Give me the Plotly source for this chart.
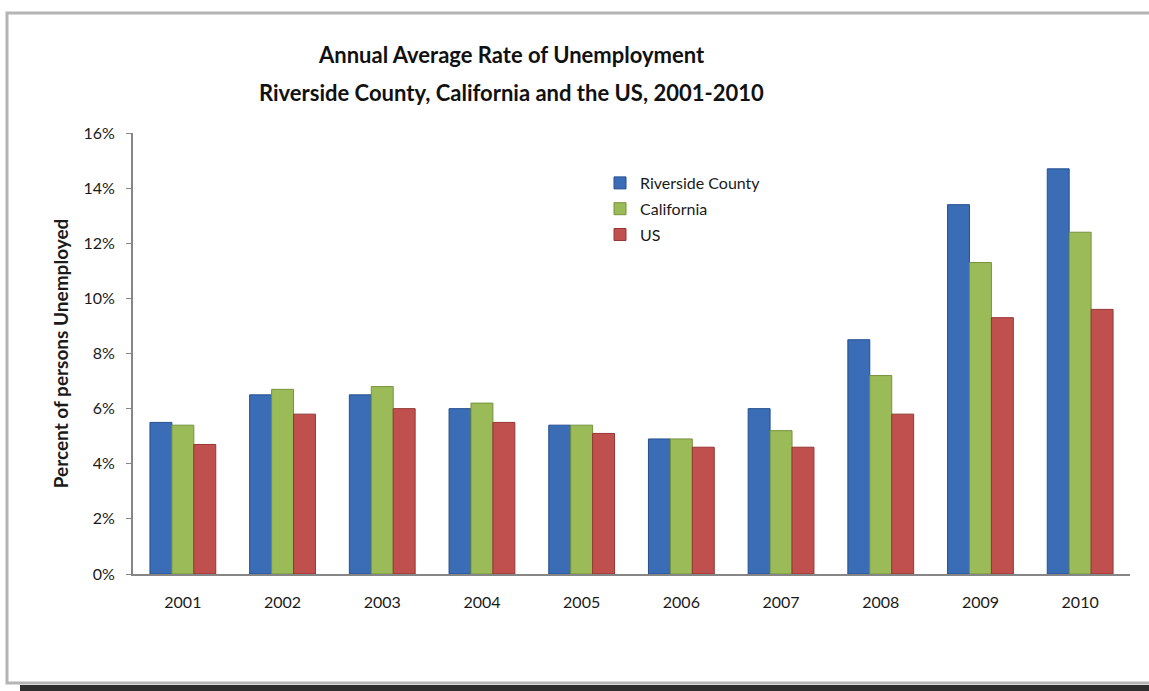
import plotly.graph_objects as go

years = ["2001", "2002", "2003", "2004", "2005", "2006", "2007", "2008", "2009", "2010"]
riverside = [5.5, 6.5, 6.5, 6.0, 5.4, 4.9, 6.0, 8.5, 13.4, 14.7]
california = [5.4, 6.7, 6.8, 6.2, 5.4, 4.9, 5.2, 7.2, 11.3, 12.4]
us = [4.7, 5.8, 6.0, 5.5, 5.1, 4.6, 4.6, 5.8, 9.3, 9.6]

title_lines = [
    "Annual Average Rate of Unemployment",
    "Riverside County, California and the US, 2001-2010",
]

series = [
    ("Riverside County", riverside, "#3a6db6", "#24508f"),
    ("California", california, "#9bbb59", "#76923c"),
    ("US", us, "#c0504d", "#943634"),
]

FONT = "Lato"

fig = go.Figure()
for name, vals, fill, edge in series:
    fig.add_trace(go.Bar(
        x=years, y=vals, name=name, legendgroup=name,
        marker=dict(color=fill, line=dict(color=edge, width=1)),
    ))

# plot area in pixels: x 133..1130, y 133..574
L, R, T, B = 133, 19, 133, 117
W, H = 1149, 691
pw, ph = W - L - R, H - T - B

def px(x):
    return (x - L) / pw

def py(y):
    return (H - B - y) / ph

annotations = [
    dict(text="<b>%s</b>" % line, x=px(511), y=py(yy), xref="paper", yref="paper",
         xanchor="center", yanchor="middle", showarrow=False,
         font=dict(family=FONT, size=22, color="#111111"))
    for line, yy in zip(title_lines, [54, 93])
]

fig.update_layout(
    width=W, height=H,
    margin=dict(l=L, r=R, t=T, b=B),
    paper_bgcolor="white", plot_bgcolor="white",
    barmode="group", bargap=0.34, bargroupgap=0.0,
    font=dict(family=FONT, size=16, color="#1a1a1a"),
    annotations=annotations,
    showlegend=True,
    legend=dict(
        x=px(600), y=py(166), xanchor="left", yanchor="top",
        bgcolor="rgba(0,0,0,0)", font=dict(family=FONT, size=16),
        itemwidth=30, tracegroupgap=2, traceorder="grouped",
    ),
    xaxis=dict(
        showline=True, linecolor="#868686", linewidth=2,
        ticks="", showgrid=False, tickfont=dict(size=16),
        ticklabelstandoff=13,
    ),
    yaxis=dict(
        range=[0, 16], dtick=2, ticksuffix="%",
        showline=True, linecolor="#868686", linewidth=2,
        ticks="outside", ticklen=5, tickcolor="#868686", tickwidth=1,
        showgrid=False, zeroline=False, tickfont=dict(size=16),
        ticklabelstandoff=8,
        title=dict(text="<b>Percent of persons Unemployed</b>", standoff=10,
                   font=dict(family=FONT, size=19)),
    ),
    shapes=[
        dict(type="rect", xref="paper", yref="paper",
             x0=px(7), x1=px(1160), y0=py(683), y1=py(13),
             line=dict(color="#b4b4b4", width=3), fillcolor="rgba(0,0,0,0)", layer="below"),
        dict(type="rect", xref="paper", yref="paper",
             x0=px(20), x1=px(1149), y0=py(691), y1=py(685),
             line=dict(width=0), fillcolor="#2f2f2f"),
    ],
)

fig.write_html("out.html")
